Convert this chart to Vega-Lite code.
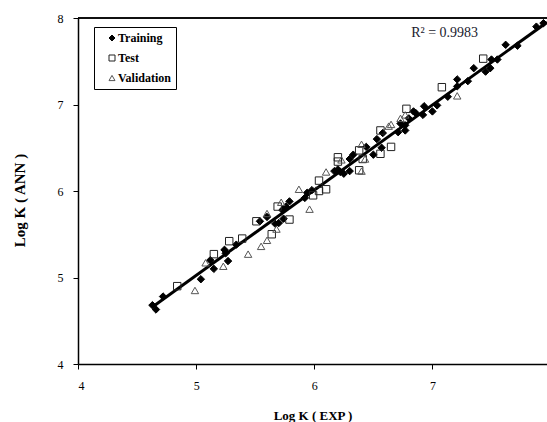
{
  "$schema": "https://vega.github.io/schema/vega-lite/v6.json",
  "width": 469,
  "height": 346,
  "autosize": {"type": "none"},
  "padding": {"left": 78, "top": 18, "right": 0, "bottom": 58},
  "background": "white",
  "config": {
    "view": {"stroke": null},
    "axis": {
      "grid": false,
      "domainColor": "black",
      "domainWidth": 1.5,
      "tickColor": "black",
      "tickWidth": 1,
      "tickSize": 5,
      "format": "d",
      "labelFont": "Liberation Serif",
      "labelFontSize": 12,
      "labelColor": "black",
      "titleFont": "Liberation Serif",
      "titleFontSize": 13,
      "titleFontWeight": "bold",
      "titleColor": "black"
    },
    "legend": {
      "orient": "none",
      "legendX": 16,
      "legendY": 9,
      "fillColor": "white",
      "strokeColor": "black",
      "padding": 5,
      "cornerRadius": 0,
      "symbolOffset": 7,
      "symbolSize": 36,
      "symbolStrokeWidth": 1,
      "labelFont": "Liberation Serif",
      "labelFontSize": 12,
      "labelFontWeight": "bold",
      "labelColor": "black",
      "labelOffset": 0,
      "rowPadding": 8,
      "title": null
    }
  },
  "datasets": {
    "pts": [
      {"s": "Training", "x": 4.63, "y": 4.68},
      {"s": "Training", "x": 4.66, "y": 4.63},
      {"s": "Training", "x": 4.72, "y": 4.78},
      {"s": "Training", "x": 5.04, "y": 4.98},
      {"s": "Training", "x": 5.12, "y": 5.2},
      {"s": "Training", "x": 5.15, "y": 5.1},
      {"s": "Training", "x": 5.24, "y": 5.32},
      {"s": "Training", "x": 5.25, "y": 5.28},
      {"s": "Training", "x": 5.27, "y": 5.19},
      {"s": "Training", "x": 5.34, "y": 5.38},
      {"s": "Training", "x": 5.54, "y": 5.65},
      {"s": "Training", "x": 5.6, "y": 5.7},
      {"s": "Training", "x": 5.67, "y": 5.62},
      {"s": "Training", "x": 5.7, "y": 5.63},
      {"s": "Training", "x": 5.73, "y": 5.78},
      {"s": "Training", "x": 5.76, "y": 5.82},
      {"s": "Training", "x": 5.79, "y": 5.88},
      {"s": "Training", "x": 5.74, "y": 5.68},
      {"s": "Training", "x": 5.92, "y": 5.92},
      {"s": "Training", "x": 5.94, "y": 5.98},
      {"s": "Training", "x": 5.98, "y": 6.01},
      {"s": "Training", "x": 6.17, "y": 6.23},
      {"s": "Training", "x": 6.2, "y": 6.25},
      {"s": "Training", "x": 6.22, "y": 6.22},
      {"s": "Training", "x": 6.25, "y": 6.2},
      {"s": "Training", "x": 6.3, "y": 6.23},
      {"s": "Training", "x": 6.3, "y": 6.37},
      {"s": "Training", "x": 6.33, "y": 6.42},
      {"s": "Training", "x": 6.44, "y": 6.51},
      {"s": "Training", "x": 6.5, "y": 6.42},
      {"s": "Training", "x": 6.53, "y": 6.6},
      {"s": "Training", "x": 6.58, "y": 6.67},
      {"s": "Training", "x": 6.57, "y": 6.5},
      {"s": "Training", "x": 6.71, "y": 6.68},
      {"s": "Training", "x": 6.73, "y": 6.78},
      {"s": "Training", "x": 6.77, "y": 6.76},
      {"s": "Training", "x": 6.77, "y": 6.7},
      {"s": "Training", "x": 6.8, "y": 6.84},
      {"s": "Training", "x": 6.84, "y": 6.92},
      {"s": "Training", "x": 6.86, "y": 6.9},
      {"s": "Training", "x": 6.92, "y": 6.88},
      {"s": "Training", "x": 6.93, "y": 6.98},
      {"s": "Training", "x": 7.0, "y": 6.92},
      {"s": "Training", "x": 7.04, "y": 6.99},
      {"s": "Training", "x": 7.13, "y": 7.09},
      {"s": "Training", "x": 7.21, "y": 7.29},
      {"s": "Training", "x": 7.21, "y": 7.21},
      {"s": "Training", "x": 7.3, "y": 7.27},
      {"s": "Training", "x": 7.35, "y": 7.42},
      {"s": "Training", "x": 7.45, "y": 7.38},
      {"s": "Training", "x": 7.49, "y": 7.42},
      {"s": "Training", "x": 7.5, "y": 7.52},
      {"s": "Training", "x": 7.55, "y": 7.52},
      {"s": "Training", "x": 7.62, "y": 7.69},
      {"s": "Training", "x": 7.72, "y": 7.68},
      {"s": "Training", "x": 7.88, "y": 7.9},
      {"s": "Training", "x": 7.94, "y": 7.94},
      {"s": "Test", "x": 4.84, "y": 4.9},
      {"s": "Test", "x": 5.15, "y": 5.27},
      {"s": "Test", "x": 5.28, "y": 5.42},
      {"s": "Test", "x": 5.39, "y": 5.45},
      {"s": "Test", "x": 5.51, "y": 5.65},
      {"s": "Test", "x": 5.64, "y": 5.5},
      {"s": "Test", "x": 5.69, "y": 5.82},
      {"s": "Test", "x": 5.79, "y": 5.67},
      {"s": "Test", "x": 5.99, "y": 5.95},
      {"s": "Test", "x": 6.04, "y": 6.0},
      {"s": "Test", "x": 6.04, "y": 6.12},
      {"s": "Test", "x": 6.1, "y": 6.02},
      {"s": "Test", "x": 6.2, "y": 6.39},
      {"s": "Test", "x": 6.2, "y": 6.34},
      {"s": "Test", "x": 6.38, "y": 6.47},
      {"s": "Test", "x": 6.38, "y": 6.24},
      {"s": "Test", "x": 6.41, "y": 6.37},
      {"s": "Test", "x": 6.56, "y": 6.7},
      {"s": "Test", "x": 6.56, "y": 6.43},
      {"s": "Test", "x": 6.65, "y": 6.51},
      {"s": "Test", "x": 6.78, "y": 6.95},
      {"s": "Test", "x": 7.08, "y": 7.2},
      {"s": "Test", "x": 7.43, "y": 7.53},
      {"s": "Validation", "x": 4.99, "y": 4.85},
      {"s": "Validation", "x": 5.08, "y": 5.17},
      {"s": "Validation", "x": 5.23, "y": 5.13},
      {"s": "Validation", "x": 5.44, "y": 5.27},
      {"s": "Validation", "x": 5.55, "y": 5.36},
      {"s": "Validation", "x": 5.6, "y": 5.43},
      {"s": "Validation", "x": 5.6, "y": 5.74},
      {"s": "Validation", "x": 5.68, "y": 5.56},
      {"s": "Validation", "x": 5.72, "y": 5.87},
      {"s": "Validation", "x": 5.87, "y": 6.02},
      {"s": "Validation", "x": 5.96, "y": 5.79},
      {"s": "Validation", "x": 6.1, "y": 6.22},
      {"s": "Validation", "x": 6.23, "y": 6.36},
      {"s": "Validation", "x": 6.4, "y": 6.23},
      {"s": "Validation", "x": 6.4, "y": 6.54},
      {"s": "Validation", "x": 6.43, "y": 6.37},
      {"s": "Validation", "x": 6.63, "y": 6.75},
      {"s": "Validation", "x": 6.65, "y": 6.77},
      {"s": "Validation", "x": 6.73, "y": 6.84},
      {"s": "Validation", "x": 6.77, "y": 6.88},
      {"s": "Validation", "x": 7.21, "y": 7.1}
    ],
    "fit": [
      {"x": 4.63, "y": 4.66},
      {"x": 7.97, "y": 7.95}
    ],
    "lbl": [
      {"x": 6.82, "y": 7.83, "t": "R² = 0.9983"}
    ]
  },
  "layer": [
    {
      "data": {"name": "fit"},
      "mark": {"type": "rule", "color": "black", "strokeWidth": 1.5},
      "encoding": {"y": {"datum": 8, "type": "quantitative", "scale": {"domain": [4, 8], "nice": false}}}
    },
    {
      "data": {"name": "fit"},
      "mark": {"type": "line", "color": "black", "strokeWidth": 3, "clip": true},
      "encoding": {
        "x": {"field": "x", "type": "quantitative"},
        "y": {"field": "y", "type": "quantitative"}
      }
    },
    {
      "data": {"name": "pts"},
      "mark": {"type": "point", "opacity": 1, "strokeWidth": 1, "size": 55},
      "encoding": {
        "x": {
          "field": "x", "type": "quantitative",
          "scale": {"domain": [4, 7.97], "nice": false, "zero": false},
          "axis": {"values": [4, 5, 6, 7], "title": "Log K ( EXP )", "labelPadding": 11, "titlePadding": 18}
        },
        "y": {
          "field": "y", "type": "quantitative",
          "scale": {"domain": [4, 8], "nice": false, "zero": false},
          "axis": {"values": [4, 5, 6, 7, 8], "title": "Log K ( ANN )", "titleFontSize": 15, "labelPadding": 10, "titleX": -59, "titleY": 182, "titleAngle": -90, "titleBaseline": "middle", "titleAlign": "center"}
        },
        "shape": {
          "field": "s", "type": "nominal",
          "scale": {"domain": ["Training", "Test", "Validation"], "range": ["diamond", "square", "triangle-up"]},
          "legend": {"title": null}
        },
        "fill": {
          "field": "s", "type": "nominal",
          "scale": {"domain": ["Training", "Test", "Validation"], "range": ["black", "transparent", "transparent"]},
          "legend": {"title": null}
        },
        "stroke": {
          "field": "s", "type": "nominal",
          "scale": {"domain": ["Training", "Test", "Validation"], "range": ["black", "#222222", "#555555"]},
          "legend": {"title": null}
        }
      }
    },
    {
      "data": {"name": "lbl"},
      "mark": {"type": "text", "font": "Liberation Serif", "fontSize": 14, "align": "left", "baseline": "middle", "color": "#1a1a2e"},
      "encoding": {
        "x": {"field": "x", "type": "quantitative"},
        "y": {"field": "y", "type": "quantitative"},
        "text": {"field": "t"}
      }
    }
  ]
}
